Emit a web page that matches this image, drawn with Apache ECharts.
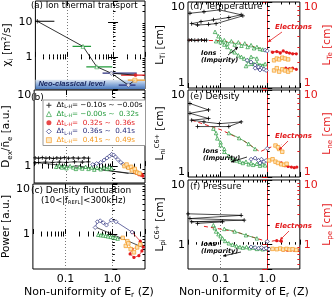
<!DOCTYPE html>
<html><head><meta charset="utf-8">
<script src="https://cdn.jsdelivr.net/npm/echarts@6/dist/echarts.min.js"></script>
<style>html,body{margin:0;padding:0;background:#fff}#c{width:335px;height:300px}</style>
</head><body><div id="c"></div>
<script>
// ---------------- data ----------------
const XMIN = 0.02, XMAX = 5;
const xTickText = [['0.1', 0.1], ['1.0', 1]];
const legendRanges = ['\u22120.10s ~ \u22120.00s', '\u22120.00s ~  0.32s', ' 0.32s ~  0.36s', ' 0.36s ~  0.41s', ' 0.41s ~  0.49s'];

// (a) ion thermal diffusivity, with horizontal error bars
const aX   = [0.022, 0.22, 0.44, 0.92, 3.1, 2.16, 3.0];
const aY   = [10.5, 2.0, 0.52, 0.34, 0.30, 0.155, 0.215];
const aLo  = [0.02, 0.13, 0.26, 0.59, 1.5, 1.33, 2.1];
const aHi  = [0.052, 0.33, 0.96, 3.3, 5.0, 3.1, 5.0];
const aGrp = [0, 1, 1, 3, 2, 3, 4];
const aPath1 = [0, 1, 2, 3, 4];
const aPath2 = [3, 5, 6];
const neoBand = [0.12, 0.22];

// (b) D/n
const bK = [[0.021,1.28],[0.025,1.27],[0.03,1.29],[0.036,1.27],[0.043,1.28],[0.052,1.26],[0.062,1.28],[0.075,1.27],[0.09,1.29],[0.11,1.27],[0.14,1.28],[0.18,1.27],[0.24,1.28],[0.3,1.27],[0.3,1.14],[0.22,1.13],[0.15,1.14],[0.1,1.12],[0.07,1.13],[0.05,1.12],[0.035,1.13],[0.025,1.12],[0.021,1.1]];
const bG = [[0.06,0.98],[0.07,1.02],[0.08,0.96],[0.09,1.0],[0.1,0.94],[0.12,1.0],[0.14,0.96],[0.16,0.92],[0.19,0.97],[0.22,0.93],[0.26,0.98],[0.3,0.92],[0.35,0.96],[0.4,0.9],[0.46,0.95],[0.55,0.91],[0.65,0.96],[0.75,0.92],[0.85,0.97],[0.95,0.93]];
const bR = [[2.6,0.88],[3.0,0.84],[3.3,0.8],[3.7,0.77],[4.1,0.76],[4.5,0.74],[3.9,0.8],[4.3,0.78]];
const bN = [[0.37,1.05],[0.45,1.08],[0.55,1.12],[0.65,1.2],[0.75,1.28],[0.85,1.35],[0.95,1.43],[1.05,1.4],[1.15,1.32],[1.3,1.22],[1.5,1.12],[1.7,1.05],[2.0,1.0]];
const bO = [[1.8,1.0],[2.0,1.05],[2.2,0.95],[2.5,0.98],[2.8,0.9],[3.1,0.85],[3.4,0.82],[3.8,0.8],[2.6,0.88],[3.0,0.92]];
const bLinks = [[[0.021,1.12],[3.9,0.78]], [[0.15,1.02],[2.2,0.8]]];

// (c) fluctuation power
const cG = [[0.5,0.97],[0.57,0.95],[0.64,0.94],[0.72,0.92],[0.81,0.9],[0.92,0.88],[1.03,0.86],[1.15,0.84],[1.3,0.81]];
const cR = [[2.65,1.09],[3.96,0.72],[4.6,0.55],[4.3,0.46],[3.7,0.37],[2.9,0.34],[2.4,0.4],[2.65,0.5]];
const cN = [[0.43,1.35],[0.48,1.76],[0.55,1.84],[0.64,1.68],[0.75,1.51],[0.95,1.89],[1.2,1.76],[2.65,1.09]];
const cO = [[1.67,0.84],[2.1,0.72],[1.94,0.58],[2.47,0.5],[3.4,0.54],[3.96,0.62],[2.9,0.43],[2.2,0.65]];
const cLinks = [[[0.46,1.35],[4.3,0.55]], [[1.3,0.81],[1.67,0.84]]];

// (d) temperature scale lengths
const dIonK = [[0.022,7.4],[0.044,7.7],[0.094,8.1],[0.276,7.1],[0.15,6.6],[0.07,6.2],[0.038,5.9],[0.024,5.6],[0.032,5.4],[0.055,5.5],[0.08,5.6],[0.3,6.9]];
const dIonG = [[0.076,4.5],[0.09,4.0],[0.1,3.7],[0.12,3.2],[0.14,3.0],[0.17,2.7],[0.2,2.6],[0.24,2.4],[0.28,2.3],[0.32,2.2],[0.38,2.1],[0.45,2.0],[0.52,1.9],[0.6,1.95],[0.7,1.85],[0.8,1.8],[0.9,1.9],[0.35,1.8],[0.45,2.3],[0.6,2.2]];
const dIonN = [[0.37,2.1],[0.45,2.0],[0.55,1.85],[0.65,1.75],[0.75,1.7],[0.85,1.65],[0.95,1.6],[0.55,1.7],[0.7,1.62]];
const dIonR = [[2.5,1.7],[3.0,1.68],[3.5,1.7],[4.2,1.65]];
const dIonO = [[1.4,1.6],[1.6,1.7],[1.8,1.55],[2.1,1.65],[2.4,1.6],[2.8,1.55],[3.2,1.62]];
const dEleK = [[0.021,3.6],[0.024,3.62],[0.028,3.58],[0.033,3.6],[0.039,3.62],[0.045,3.58],[0.05,3.6]];
const dEleG = [[0.08,3.5],[0.1,3.4],[0.12,3.6],[0.14,3.3],[0.17,3.5],[0.2,3.2],[0.24,3.4],[0.28,3.1],[0.33,3.3],[0.38,3.0],[0.45,3.15],[0.52,2.9],[0.6,3.0],[0.7,2.85],[0.8,2.8]];
const dEleN = [[0.9,2.75],[1.0,2.7]];
const dEleR = [[1.3,2.6],[1.6,2.65],[1.9,2.55],[2.2,2.7],[2.6,2.6],[3.0,2.55],[3.5,2.5],[4.2,2.5]];
const dEleO = [[1.4,2.1],[1.6,2.2],[1.8,2.15],[2.1,2.25],[2.4,2.2],[2.8,2.15]];
const dEleTrend = [[0.02,3.6],[0.1,3.55],[0.3,3.3],[0.6,2.95],[1.0,2.7],[2.0,2.62],[4.5,2.5]];

// (e) density scale lengths
const eIonK = [[0.022,7.0],[0.055,5.9],[0.022,5.4],[0.055,4.7],[0.024,4.5],[0.044,4.3],[0.094,4.1],[0.276,4.3],[0.15,3.8],[0.032,3.8]];
const eIonG = [[0.07,3.6],[0.08,3.2],[0.085,2.78],[0.1,2.5],[0.1,2.33],[0.12,2.1],[0.12,1.95],[0.15,1.75],[0.18,1.6],[0.22,1.55],[0.26,1.5],[0.3,1.45],[0.35,1.5],[0.4,1.4],[0.45,1.45],[0.5,1.38],[0.6,1.42],[0.7,1.35],[0.8,1.4],[0.9,1.36]];
const eIonN = [[0.45,1.6],[0.55,1.65],[0.65,1.55],[0.75,1.6],[0.85,1.5],[0.95,1.55],[0.7,1.45]];
const eIonR = [[2.0,1.45],[2.4,1.35],[2.8,1.32],[3.3,1.3],[3.8,1.28],[4.3,1.3]];
const eIonO = [[1.1,1.55],[1.3,1.6],[1.5,1.5],[1.7,1.45],[2.0,1.4],[2.3,1.38],[2.6,1.42]];
const eEleG = [[0.15,3.2],[0.25,2.8],[0.4,2.4],[0.55,2.1]];
const eEleN = [[1.0,2.13]];
const eEleO = [[1.5,2.3],[1.8,2.1],[2.1,1.95],[1.7,2.2]];
const eEleTrend = [[0.024,4.5],[0.1,3.5],[0.3,2.65],[0.7,1.95],[1.0,2.13],[1.5,2.3],[2.0,2.35]];

// (f) pressure scale lengths
const fIonK = [[0.02,3.0],[0.276,2.84],[0.022,2.53],[0.32,2.39],[0.024,2.26],[0.11,2.26],[0.032,2.13]];
const fIonG = [[0.07,2.0],[0.075,1.8],[0.08,1.6],[0.09,1.45],[0.1,1.35],[0.11,1.25],[0.125,1.14],[0.15,1.05],[0.18,1.0],[0.22,0.95],[0.26,0.92],[0.3,0.9],[0.36,0.92],[0.42,0.88],[0.5,0.9],[0.6,0.86],[0.7,0.88],[0.8,0.85],[0.9,0.87]];
const fIonN = [[0.45,0.92],[0.55,0.9],[0.65,0.88],[0.75,0.9],[0.85,0.86],[0.95,0.88],[1.1,0.85]];
const fIonR = [[2.2,0.83],[2.7,0.82],[3.2,0.83],[3.8,0.82],[4.4,0.83]];
const fIonO = [[1.3,0.86],[1.6,0.85],[1.9,0.87],[2.2,0.84],[2.6,0.86],[3.0,0.84],[3.5,0.85],[4.2,0.83]];
const fEleG = [[0.12,1.75],[0.2,1.6],[0.35,1.4],[0.6,1.25]];
const fEleN = [[1.0,1.12]];
const fEleR = [[1.6,1.15],[2.0,1.13]];
const fEleTrend = [[0.044,1.92],[0.2,1.6],[0.5,1.3],[1.05,1.1],[1.4,1.15],[2.0,1.13]];

// y ranges of panels a..f
const yRanges = [[0.12, 40], [0.6, 10], [0.2, 10], [1, 10], [1, 10], [0.42, 10]];

// ---------------- styling / layout ----------------
const FONT = 'DejaVu Sans';
const RED = '#e31a1c', GREEN = '#229a3a', NAVY = '#2a2e7c', ORANGE = '#f59b23', BLACK = '#000';
const PLUS = 'path://M4,0H6V4H10V6H6V10H4V6H0V4H4Z';
const G = [
  {name:'g0', color:BLACK, fill:BLACK, symbol:PLUS, size:4, bw:0},
  {name:'g1', color:GREEN, fill:'#fff', symbol:'triangle', size:3.5, bw:0.7},
  {name:'g2', color:RED, fill:RED, symbol:'circle', size:3.2, bw:0},
  {name:'g3', color:NAVY, fill:'#fff', symbol:'diamond', size:4, bw:0.7},
  {name:'g4', color:ORANGE, fill:'#fde3b8', symbol:'rect', size:3.5, bw:0.7}
];
const GRIDS = [
  {left:29, top:1, width:116, height:88},
  {left:29, top:90, width:116, height:93},
  {left:29, top:184, width:116, height:88},
  {left:188, top:2, width:120, height:86},
  {left:188, top:90, width:120, height:87},
  {left:188, top:180, width:120, height:92}
];
const lg = Math.log10;
function minorLogs(lo, hi){ const o=[]; for(let d=-3; d<=2; d++) for(let m=2;m<=9;m++){ const v=m*Math.pow(10,d); if(v>lo*1.0001 && v<hi*0.9999) o.push(lg(v)); } return o; }
function majorLogs(lo, hi){ const o=[]; for(let d=-3; d<=3; d++){ const v=Math.pow(10,d); if(v>lo*1.0001 && v<hi*0.9999) o.push(d); } return o; }
function richFor(color, fs){
  fs = fs || 11;
  return {
    n:{fontSize:fs, fontFamily:FONT, color, lineHeight:fs+3},
    s:{fontSize:fs*0.68, fontFamily:FONT, color, lineHeight:fs*0.75, verticalAlign:'bottom'},
    p:{fontSize:fs*0.62, fontFamily:FONT, color, lineHeight:fs*0.7, verticalAlign:'top'},
    t:{fontSize:fs, fontFamily:FONT, color, padding:[10,0,0,0]},
    b:{fontSize:fs, fontFamily:FONT, color, padding:[0,0,9,0]}
  };
}
function near(a, b){ return Math.abs(a-b) <= Math.abs(b)*1e-6; }

const xAxes = [], yAxes = [], series = [];
const xMain = [], yMain = [];
function tickHelper(i, pos, lo, hi, len, vals, color){
  return {type:'value', gridIndex:i, position:pos, min:lg(lo), max:lg(hi), silent:true,
    axisLine:{show:false}, axisTick:{show:true, inside:true, length:len, customValues:vals, lineStyle:{color, width:1}},
    axisLabel:{show:false}, splitLine:{show:false}};
}
function addX(i, showLabels){
  xMain[i] = xAxes.length;
  xAxes.push({type:'log', logBase:10, gridIndex:i, position:'bottom', min:XMIN, max:XMAX,
    axisLine:{show:false},
    axisTick:{show:true, inside:true, length:5, lineStyle:{color:BLACK, width:1}},
    axisLabel:{show:showLabels, margin:5, fontFamily:FONT, fontSize:11, color:BLACK,
      formatter: v => { for (const [t, val] of xTickText) if (near(v, val)) return t; return ''; }},
    splitLine:{show:true, showMinLine:false, showMaxLine:false, lineStyle:{color:'#777', type:[1,2], width:1}},
    name: showLabels ? '{n|Non-uniformity of E}{s|r}{n| (Z)}' : '', nameLocation:'middle', nameGap:16,
    nameTextStyle:{rich:richFor(BLACK, 11)}
  });
  xAxes.push(tickHelper(i,'bottom',XMIN,XMAX,2.5,minorLogs(XMIN,XMAX),BLACK));
  xAxes.push(tickHelper(i,'top',XMIN,XMAX,2.5,minorLogs(XMIN,XMAX),BLACK));
  xAxes.push(tickHelper(i,'top',XMIN,XMAX,5,majorLogs(XMIN,XMAX),BLACK));
}
function yFormatter(lo, hi){
  return v => {
    let s = '';
    if (near(v, 10)) s = '10'; else if (near(v, 1)) s = '1'; else return '';
    if (near(v, hi)) return '{t|' + s + '}';
    if (near(v, lo)) return '{b|' + s + '}';
    return s;
  };
}
function logY(i, pos, color, name, gap, margin){
  const [lo, hi] = yRanges[i];
  return {type:'log', logBase:10, gridIndex:i, position:pos, min:lo, max:hi,
    axisLine:{show: color !== BLACK, lineStyle:{color, width:1}},
    axisTick:{show:true, inside:true, length:5, lineStyle:{color, width:1}},
    axisLabel:{margin, fontFamily:FONT, fontSize:11, color, formatter:yFormatter(lo, hi), rich:richFor(color, 11)},
    splitLine:{show:false},
    name, nameLocation:'middle', nameGap:gap, nameTextStyle:{rich:richFor(color, 10.5)}};
}
function addY(i, leftName, rightName){
  const [lo, hi] = yRanges[i];
  yMain[i] = yAxes.length;
  yAxes.push(logY(i, 'left', BLACK, leftName, i < 3 ? 13 : 11, 3));
  yAxes.push(tickHelper(i,'left',lo,hi,2.5,minorLogs(lo,hi),BLACK));
  if (rightName) {
    yAxes.push(logY(i, 'right', RED, rightName, 9, 4));
    yAxes.push(tickHelper(i,'right',lo,hi,2.5,minorLogs(lo,hi),RED));
  } else {
    yAxes.push(tickHelper(i,'right',lo,hi,5,majorLogs(lo,hi),BLACK));
    yAxes.push(tickHelper(i,'right',lo,hi,2.5,minorLogs(lo,hi),BLACK));
  }
}
const Y_NAMES = [
  ['{n|\u03c7}{s|i}{n| [m}{p|2}{n|/s]}', null],
  ['{n|D}{s|ex}{n|/n\u0304}{s|e}{n| [a.u.]}', null],
  ['{n|Power [a.u.]}', null],
  ['{n|L}{s|Ti}{n| [cm]}', '{n|L}{s|Te}{n| [cm]}'],
  ['{n|L}{s|ni}{p|C6+}{n| [cm]}', '{n|L}{s|ne}{n| [cm]}'],
  ['{n|L}{s|pi}{p|C6+}{n| [cm]}', '{n|L}{s|pe}{n| [cm]}']
];
for (let i = 0; i < 6; i++) { addX(i, i === 2 || i === 5); addY(i, Y_NAMES[i][0], Y_NAMES[i][1]); }

function grp(i, k, data){
  const g = G[k];
  series.push({type:'line', name:g.name, xAxisIndex:xMain[i], yAxisIndex:yMain[i], data,
    symbol:g.symbol, symbolSize:g.size, showSymbol:true, silent:true, z:3,
    lineStyle:{color:g.color, width:0.7}, itemStyle:{color:g.fill, borderColor:g.color, borderWidth:g.bw}});
}
function plain(i, data, color, width, type, z){
  series.push({type:'line', name:'_', xAxisIndex:xMain[i], yAxisIndex:yMain[i], data, symbol:'none', silent:true, z:z||2,
    lineStyle:{color, width, type:type||'solid'}});
}

// (a)
series.push({type:'line', name:'_band', xAxisIndex:xMain[0], yAxisIndex:yMain[0], data:[], symbol:'none', silent:true,
  markArea:{silent:true, itemStyle:{opacity:1, color:{type:'linear', x:0, y:0, x2:0, y2:1,
      colorStops:[{offset:0, color:'#dce6f2'}, {offset:0.5, color:'#8eaedb'}, {offset:1, color:'#4d7bbf'}]}},
    label:{show:true, position:'insideLeft', distance:3, formatter:'Neo-classical level', color:'#16245e',
      fontStyle:'italic', fontWeight:'bold', fontSize:7.5, fontFamily:'Liberation Sans'},
    data:[[{yAxis:neoBand[0]}, {yAxis:neoBand[1]}]]}});
for (let j = 0; j < aX.length; j++) plain(0, [[aLo[j], aY[j]], [aHi[j], aY[j]]], G[aGrp[j]].color, 1.2, 'solid', 2);
plain(0, aPath1.map(j => [aX[j], aY[j]]), BLACK, 0.8, 'solid', 2);
plain(0, aPath2.map(j => [aX[j], aY[j]]), BLACK, 0.8, 'solid', 2);
for (let k = 0; k < 5; k++) {
  const pts = []; for (let j = 0; j < aX.length; j++) if (aGrp[j] === k) pts.push([aX[j], aY[j]]);
  const g = G[k];
  series.push({type:'scatter', name:g.name, xAxisIndex:xMain[0], yAxisIndex:yMain[0], data:pts,
    symbol:g.symbol, symbolSize:g.size + 0.5, silent:true, z:4,
    itemStyle:{color:g.fill, borderColor:g.color, borderWidth:g.bw}});
}
// (b)
bLinks.forEach(l => plain(1, l, BLACK, 0.7));
[bK, bG, bR, bN, bO].forEach((d, k) => grp(1, k, d));
// (c)
cLinks.forEach(l => plain(2, l, BLACK, 0.7));
[null, cG, cR, cN, cO].forEach((d, k) => { if (d) grp(2, k, d); });
// (d)
plain(3, dEleTrend, RED, 1, [4,3]);
[dIonK, dIonG, dIonR, dIonN, dIonO].forEach((d, k) => grp(3, k, d));
[dEleK, dEleG, dEleR, dEleN, dEleO].forEach((d, k) => grp(3, k, d));
// (e)
plain(4, eEleTrend, RED, 1, [4,3]);
[eIonK, eIonG, eIonR, eIonN, eIonO].forEach((d, k) => grp(4, k, d));
[null, eEleG, null, eEleN, eEleO].forEach((d, k) => { if (d) grp(4, k, d); });
// (f)
plain(5, fEleTrend, RED, 1, [4,3]);
[fIonK, fIonG, fIonR, fIonN, fIonO].forEach((d, k) => grp(5, k, d));
[null, fEleG, fEleR, fEleN, null].forEach((d, k) => { if (d) grp(5, k, d); });

// legend rich styles
const legRich = {};
G.forEach((g, k) => {
  legRich['c' + k] = {color:g.color, fontSize:7.2, fontFamily:FONT, lineHeight:8.7};
  legRich['s' + k] = {color:g.color, fontSize:4.8, fontFamily:FONT, lineHeight:5.5, verticalAlign:'bottom'};
});

// annotations
function txt(x, y, text, color, size, extra){
  return {type:'text', x, y, silent:true, z:50,
    style:Object.assign({text, fill:color, fontSize:size, fontFamily:FONT}, extra || {})};
}
function arrow(x1, y1, x2, y2, color){
  const a = Math.atan2(y2 - y1, x2 - x1), h = 3.5, w = 0.5;
  return [
    {type:'line', silent:true, z:50, shape:{x1, y1, x2, y2}, style:{stroke:color, lineWidth:0.8}},
    {type:'polygon', silent:true, z:50, shape:{points:[[x2, y2],
      [x2 - h*Math.cos(a - w), y2 - h*Math.sin(a - w)], [x2 - h*Math.cos(a + w), y2 - h*Math.sin(a + w)]]},
      style:{fill:color}}
  ];
}
const annoE = {fontStyle:'italic', fontWeight:'bold'};
const graphic = [
  txt(31, 1, '(a) Ion thermal transport', BLACK, 8.6),
  txt(31, 93, '(b)', BLACK, 9),
  txt(31, 186, '(c) Density fluctuation', BLACK, 9),
  txt(41, 196, '(10<|f{s|REFL}|<300kHz)', BLACK, 8.5, {rich:{s:{fontSize:5, fontFamily:FONT, verticalAlign:'bottom', lineHeight:6}}}),
  txt(190, 2, '(d) Temperature', BLACK, 9),
  txt(190, 92, '(e) Density', BLACK, 9),
  txt(190, 182, '(f) Pressure', BLACK, 9),
  txt(275, 24, 'Electrons', RED, 7, annoE),
  txt(275, 133, 'Electrons', RED, 7, annoE),
  txt(275, 223, 'Electrons', RED, 7, annoE),
  txt(201, 50, 'Ions\n(Impurity)', BLACK, 6.5, Object.assign({lineHeight:7}, annoE)),
  txt(203, 148, 'Ions\n(Impurity)', BLACK, 6.5, Object.assign({lineHeight:7}, annoE)),
  txt(201, 241, 'Ions\n(Impurity)', BLACK, 6.5, Object.assign({lineHeight:7}, annoE)),
  ...arrow(282, 32, 268, 42, RED),
  ...arrow(288, 141, 279, 150, RED),
  ...arrow(289, 231, 280, 240, RED),
  ...arrow(228, 55, 238, 47, BLACK),
  ...arrow(247, 157, 231, 162, BLACK),
  ...arrow(241, 252, 223, 256, BLACK)
];

const chart = echarts.init(document.getElementById('c'), null, {renderer:'canvas'});
chart.setOption({
  animation:false,
  grid: GRIDS.map(g => Object.assign({show:true, borderColor:BLACK, borderWidth:1, backgroundColor:'transparent', containLabel:false}, g)),
  xAxis: xAxes, yAxis: yAxes, series, graphic,
  legend: {
    data: G.map(g => ({name:g.name, icon:g.symbol, itemStyle:{color:g.fill, borderColor:g.color, borderWidth:g.bw ? 0.8 : 0}})),
    orient:'vertical', left:43, top:100, itemGap:0, itemWidth:5, itemHeight:5, padding:[1,3,1,3],
    borderColor:'#999', borderWidth:1, backgroundColor:'#fff', selectedMode:false, z:20,
    formatter: name => { const k = +name.slice(1); return '{c'+k+'|\u0394t}{s'+k+'|L-H}{c'+k+'|= '+legendRanges[k]+'}'; },
    textStyle:{rich:legRich, fontSize:7.2, fontFamily:FONT, lineHeight:8.7}
  }
});
</script></body></html>
